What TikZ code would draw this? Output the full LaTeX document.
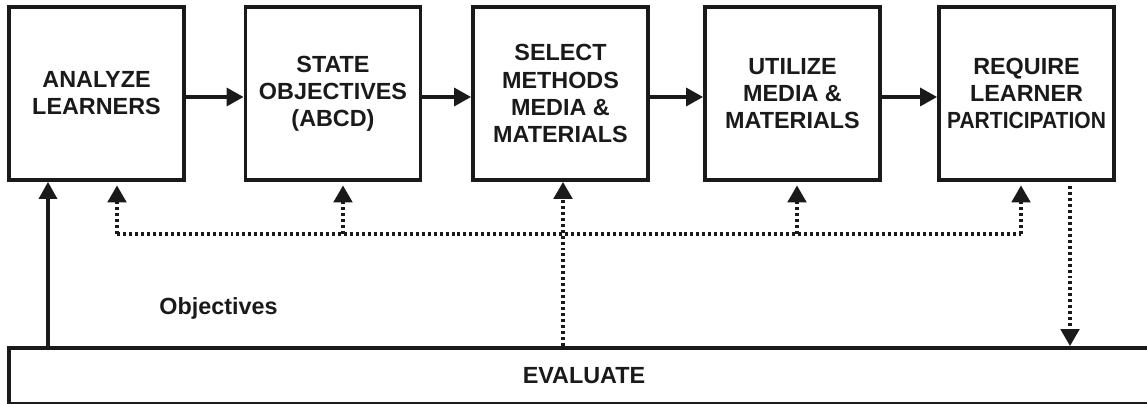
\documentclass[tikz,border=0pt]{standalone}
\usepackage{fontspec}
\setmainfont{Liberation Sans}
\usepackage{graphicx}
\usetikzlibrary{arrows.meta}
\definecolor{color_ink}{HTML}{1A1A1A}
\tikzset{
  step_box/.style={draw=color_ink, line width=2.2pt, fill=white, minimum width=3.5cm, minimum height=3.46cm, inner sep=0pt, align=center, font=\bfseries\fontsize{13.3}{15.4}\selectfont, text=color_ink},
  evaluate_box/.style={draw=color_ink, line width=2.2pt, fill=white, minimum width=23cm, minimum height=1.12cm, inner sep=0pt, font=\bfseries\fontsize{13.3}{15.4}\selectfont, text=color_ink},
  figure_label/.style={font=\bfseries\fontsize{13.3}{15.4}\selectfont, text=color_ink},
  flow_arrow/.style={-{Triangle[length=0.34cm, width=0.36cm]}, draw=color_ink, line width=1.9pt},
  feedback_line/.style={draw=color_ink, line width=2pt, dash pattern=on 1.7pt off 1.7pt},
  feedback_arrow/.style={feedback_line, -{Triangle[length=0.34cm, width=0.37cm]}},
}

\begin{document}
\begin{tikzpicture}[x=0.02cm, y=-0.02cm]
    \clip (0,0) rectangle (1147,404);

    % the five steps
    \node[step_box] (learners)   at (96.5,93.5)  {ANALYZE\\LEARNERS};
    \node[step_box] (objectives) at (333,93.5)   {STATE\\OBJECTIVES\\(ABCD)};
    \node[step_box] (select)     at (560.5,93.5) {SELECT\\METHODS\\MEDIA \&\\MATERIALS};
    \node[step_box] (utilize)    at (792.5,93.5) {UTILIZE\\MEDIA \&\\MATERIALS};
    \node[step_box] (require)    at (1026.5,93.5) {REQUIRE\\LEARNER\\\scalebox{0.9}[1]{PARTICIPATION}};
    \node[evaluate_box] (evaluate) at (584,376)  {EVALUATE};
    \node[figure_label, anchor=base] (obj_label) at (218.5,315) {Objectives};

    % points where the dotted loop turns or meets the boxes
    \coordinate (loop_l) at (117,234);
    \coordinate (loop_r) at (1021,234);
    \coordinate (drop_2) at (343,234);
    \coordinate (drop_4) at (797,234);
    \coordinate (rise_1) at (48,0);
    \coordinate (rise_3) at (563,0);
    \coordinate (fall_5) at (1070,0);

    \foreach \a/\b in {learners/objectives, objectives/select, select/utilize, utilize/require}
      \draw[flow_arrow] ([yshift=-0.07cm]\a.east) -- ([yshift=-0.07cm]\b.west);

    \draw[flow_arrow] (rise_1 |- evaluate.north) -- (rise_1 |- learners.south);

    \draw[feedback_line] (loop_l) -- (loop_r);
    \foreach \c/\n in {loop_l/learners, drop_2/objectives, drop_4/utilize, loop_r/require}
      \draw[feedback_arrow, shorten >=0.07cm] (\c) -- (\c |- \n.south);
    \draw[feedback_arrow] (rise_3 |- evaluate.north) -- (rise_3 |- select.south);
    \draw[feedback_arrow, shorten <=0.08cm] (fall_5 |- require.south) -- (fall_5 |- evaluate.north);
  \end{tikzpicture}
\end{document}
